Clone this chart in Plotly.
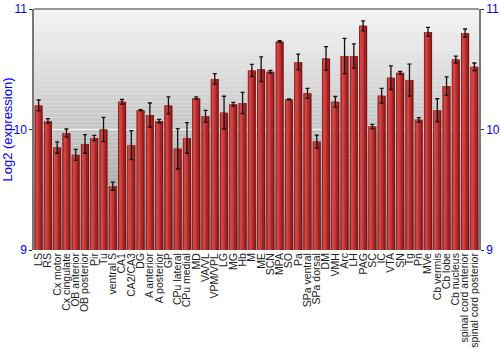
import plotly.graph_objects as go

categories = ["LS", "RS", "Cx motor", "Cx cingulate", "OB anterior", "OB posterior", "Pir", "Tu",
              "ventral S", "CA1", "CA2/CA3", "DG", "A anterior", "A posterior", "GP", "CPu lateral",
              "CPu medial", "MD", "VA/VL", "VPM/VPL", "LG", "MG", "Hb", "M", "ME", "SCN", "MPA", "SO",
              "Pa", "SPa ventral", "SPa dorsal", "DM", "VMH", "Arc", "LH", "PAG", "SC", "IC", "VTA",
              "SN", "Tg", "Pn", "MVe", "Cb vermis", "Cb lobe", "Cb nucleus", "spinal cord anterior",
              "spinal cord posterior"]
values = [10.20, 10.07, 9.85, 9.97, 9.79, 9.88, 9.93, 10.00,
          9.53, 10.23, 9.87, 10.16, 10.12, 10.07, 10.20, 9.84,
          9.93, 10.26, 10.11, 10.42, 10.14, 10.21, 10.22, 10.49, 10.50, 10.48, 10.73, 10.25,
          10.56, 10.30, 9.90, 10.59, 10.23, 10.61, 10.61, 10.86, 10.025, 10.28, 10.43,
          10.47, 10.41, 10.08, 10.81, 10.16, 10.36, 10.58, 10.80,
          10.52]
errors = [0.045, 0.02, 0.047, 0.034, 0.045, 0.077, 0.022, 0.10,
          0.034, 0.019, 0.12, 0.004, 0.10, 0.014, 0.07, 0.168,
          0.127, 0.01, 0.048, 0.044, 0.136, 0.015, 0.088, 0.05, 0.103, 0.011, 0.007, 0.004,
          0.066, 0.041, 0.054, 0.098, 0.044, 0.147, 0.10, 0.041, 0.018, 0.061, 0.098,
          0.012, 0.132, 0.018, 0.037, 0.095, 0.076, 0.029, 0.034,
          0.032]
y_ticks = [9, 10, 11]
y_range = [9, 11]

base = y_range[0]
heights = [v - base for v in values]

fig = go.Figure()

# layered bars to mimic the shaded cylinder look
layers = [
    (0.88, 0.0, "#7e1515"),
    (0.70, -0.05, "#a52222"),
    (0.44, -0.12, "#c03333"),
    (0.20, -0.16, "#cc4646"),
]
for w, shift, col in layers:
    fig.add_trace(go.Bar(
        x=list(range(len(categories))), y=heights, base=base,
        width=w, offset=-w / 2 + shift,
        marker=dict(color=col, line=dict(width=0)),
        hoverinfo="skip", showlegend=False,
    ))

# error bars
fig.add_trace(go.Scatter(
    x=list(range(len(categories))), y=values, mode="markers",
    marker=dict(size=1, color="rgba(0,0,0,0)"),
    error_y=dict(type="data", array=errors, visible=True, color="#111111", thickness=1.3, width=2),
    showlegend=False, hoverinfo="skip",
))

# right axis labels
fig.add_trace(go.Scatter(x=[0], y=[base], yaxis="y2", mode="markers",
                         marker=dict(color="rgba(0,0,0,0)"), showlegend=False, hoverinfo="skip"))

# gradient background
n = 60
shapes = []
top = (244, 244, 244)
bot = (150, 150, 150)
for i in range(n):
    t = i / (n - 1)
    c = tuple(int(round(top[k] + (bot[k] - top[k]) * t)) for k in range(3))
    shapes.append(dict(type="rect", xref="x domain", yref="y domain",
                       x0=0, x1=1, y0=1 - (i + 1) / n, y1=1 - i / n,
                       fillcolor="rgb(%d,%d,%d)" % c, line=dict(width=0), layer="below"))
shapes.append(dict(type="line", xref="x domain", yref="y", x0=0, x1=1, y0=10, y1=10,
                   line=dict(color="#f4f4f4", width=1.5), layer="below"))

fig.update_layout(
    width=500, height=350,
    margin=dict(l=34, r=21, t=9, b=100),
    paper_bgcolor="white", plot_bgcolor="rgba(0,0,0,0)",
    barmode="overlay", bargap=0.1,
    shapes=shapes,
    font=dict(family="Liberation Sans, Arial, sans-serif"),
    xaxis=dict(
        tickmode="array", tickvals=list(range(len(categories))), ticktext=categories,
        tickangle=-90, tickfont=dict(size=10.5, color="#222222"),
        range=[-0.5, len(categories) - 0.5], automargin=False,
        showgrid=False, zeroline=False, showline=False, ticks="",
    ),
    yaxis=dict(
        range=y_range, tickvals=y_ticks, tickfont=dict(size=12, color="#0000ff"),
        title=dict(text="Log2 (expression)", font=dict(size=13, color="#0000ff"), standoff=4),
        showgrid=False, zeroline=False, showline=True, linecolor="#777777", linewidth=1.5,
        ticks="outside", ticklen=3, tickcolor="#333333", automargin=False,
    ),
    yaxis2=dict(
        range=y_range, tickvals=y_ticks, tickfont=dict(size=12, color="#0000ff"),
        overlaying="y", side="right", showgrid=False, zeroline=False,
        showline=True, linecolor="#777777", linewidth=1.5,
        ticks="outside", ticklen=3, tickcolor="#333333", automargin=False,
    ),
)
fig.add_shape(type="line", xref="x domain", yref="y domain", x0=0, x1=1, y0=1, y1=1,
              line=dict(color="#777777", width=1.5))

fig.write_html("out.html")
